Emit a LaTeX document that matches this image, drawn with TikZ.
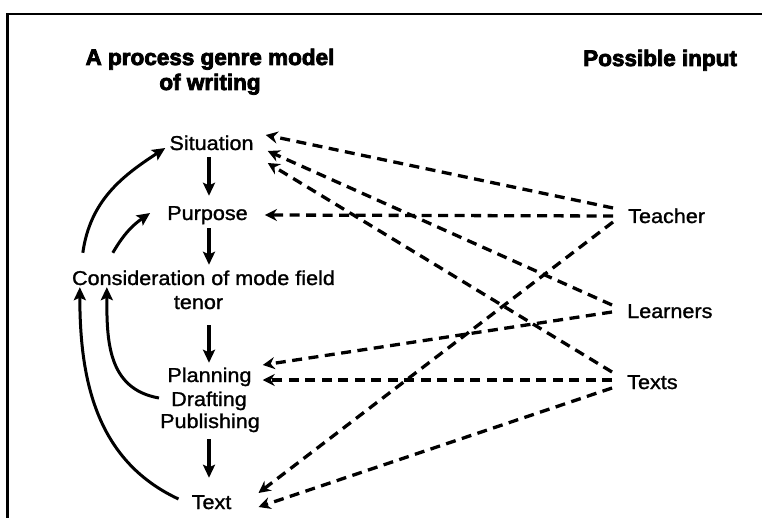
\documentclass[tikz,border=0pt]{standalone}
\usepackage{fontspec}
\newfontfamily\bodyfont{Liberation Sans}[FakeStretch=1.08,FakeBold=1.3]
\newfontfamily\headfont{Liberation Sans Bold}[FakeBold=3.5]
\usetikzlibrary{arrows.meta}

\begin{document}
\begin{tikzpicture}[x=1pt,y=1pt,
  lbl/.style={font=\bodyfont\fontsize{20}{24}\selectfont, inner sep=0pt,
              text height=14pt, text depth=4pt, anchor=base},
  rlbl/.style={lbl, anchor=base west},
  head/.style={font=\headfont\fontsize{22.5}{27}\selectfont, inner sep=0pt, anchor=base},
  flow/.style={line width=3.2pt, -{Stealth[length=13pt,width=12pt,inset=2.5pt]}},
  feed/.style={line width=3pt, -{Stealth[length=13pt,width=12pt,inset=2.5pt]}},
  inp/.style={line width=3.3pt, dash pattern=on 10pt off 6.5pt,
              -{Stealth[length=12pt,width=12pt,inset=4pt]}},
]
\useasboundingbox (0,0) rectangle (762,-518);
% frame
\draw[line width=2.4pt] (7.5,-518) -- (7.5,-14) -- (762,-14);

% headings
\node[head] (h1) at (210,-65) {A process genre model};
\node[head] (h2) at (210,-90) {of writing};
\node[head, anchor=base west] (hin) at (583,-66) {Possible input};

% writing process column
\coordinate (col) at (209,0);
\node[lbl] (sit)   at (211.5,-150) {Situation};
\node[lbl] (pur)   at (207.5,-220) {Purpose};
\node[lbl] (cons)  at (203.5,-285) {Consideration of mode field};
\node[lbl] (tenor) at (198.5,-309) {tenor};
\node[lbl] (plan)  at (209.5,-382) {Planning};
\node[lbl] (draft) at (209,-406)   {Drafting};
\node[lbl] (publ)  at (210,-428)   {Publishing};
\node[lbl] (text)  at (211.5,-509) {Text};

% input sources
\node[rlbl] (teacher)  at (628,-223) {Teacher};
\node[rlbl] (learners) at (627,-318) {Learners};
\node[rlbl] (texts)    at (627,-389) {Texts};

% main sequence
\draw[flow] ([yshift=-3pt]sit.south -| col) -- ([yshift=10pt]pur.north -| col);
\draw[flow] ([yshift=-4pt]pur.south -| col) -- ([yshift=6pt]cons.north -| col);
\draw[flow] ([yshift=-12pt]tenor.south -| col) -- ([yshift=5pt]plan.north -| col);
\draw[flow] ([yshift=-7pt]publ.south -| col) -- ([yshift=17pt]text.north -| col);

% feedback loops
\draw[feed] ([shift={(11pt,18pt)}]cons.north west) to[out=82,in=213]
            ([shift={(-4pt,2pt)}]sit.base west);
\draw[feed] ([shift={(41pt,18pt)}]cons.north west) to[out=60,in=215]
            ([shift={(-17pt,7pt)}]pur.base west);
\draw[feed] ([shift={(-13pt,10pt)}]text.base west) to[out=155,in=-90]
            ([shift={(8pt,2pt)}]cons.south west);
\draw[feed] ([shift={(-12pt,8pt)}]draft.base west) to[out=170,in=-90,looseness=1.1]
            ([shift={(35pt,2pt)}]cons.south west);

% possible inputs
\draw[inp] ([shift={(-15pt,15pt)}]teacher.base west) -- ([shift={(12pt,15pt)}]sit.base east);
\draw[inp] ([shift={(-15pt,13pt)}]learners.base west) -- ([shift={(14pt,-1pt)}]sit.base east);
\draw[inp] ([shift={(-15pt,17pt)}]texts.base west) -- ([shift={(14pt,-13pt)}]sit.base east);
\draw[inp] ([shift={(-15pt,7pt)}]teacher.base west) -- ([shift={(17pt,5pt)}]pur.base east);
\draw[inp] ([shift={(-15pt,6pt)}]learners.base west) -- ([shift={(11pt,17pt)}]plan.base east);
\draw[inp] ([shift={(-15pt,9pt)}]texts.base west) -- ([shift={(11pt,2pt)}]plan.base east);
\draw[inp] ([shift={(-15pt,1pt)}]teacher.base west) -- ([shift={(27pt,16pt)}]text.base east);
\draw[inp] ([shift={(-15pt,1pt)}]texts.base west) -- ([shift={(27pt,2pt)}]text.base east);
\end{tikzpicture}
\end{document}
